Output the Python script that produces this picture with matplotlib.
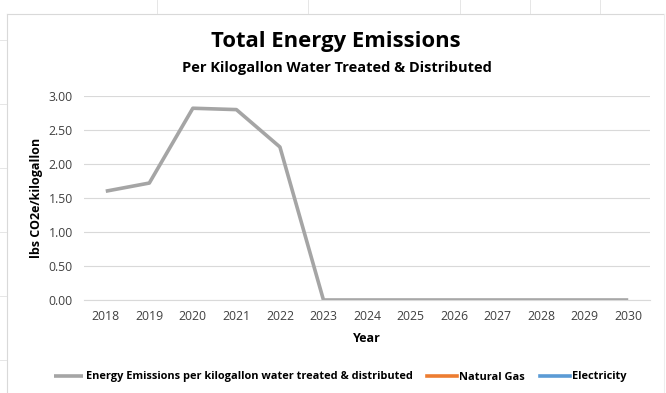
import numpy as np
import matplotlib.pyplot as plt
from matplotlib.lines import Line2D

years = [2018, 2019, 2020, 2021, 2022, 2023, 2024, 2025, 2026, 2027, 2028, 2029, 2030]
energy_emissions = [1.60, 1.72, 2.82, 2.80, 2.25, 0, 0, 0, 0, 0, 0, 0, 0]
# these two series have no visible values in the chart
natural_gas = [np.nan] * len(years)
electricity = [np.nan] * len(years)

plt.rcParams['font.family'] = ['Open Sans', 'DejaVu Sans']

W, H = 666, 393
fig = plt.figure(figsize=(W / 100, H / 100), dpi=100)

# spreadsheet background / chart border
grid_col = '#E6E6E6'
for x in [157, 308, 460, 530, 600]:
    fig.add_artist(Line2D([x / W, x / W], [1, 1 - 13 / H], color=grid_col, lw=0.7))
for y in range(40, 393, 64):
    fig.add_artist(Line2D([0, 6 / W], [1 - y / H, 1 - y / H], color=grid_col, lw=0.7))
fig.add_artist(Line2D([7 / W, 664 / W], [1 - 14 / H, 1 - 14 / H], color='#D9D9D9', lw=0.8))
fig.add_artist(Line2D([7 / W, 7 / W], [1 - 14 / H, 0], color='#D9D9D9', lw=0.8))
fig.add_artist(Line2D([664 / W, 664 / W], [1 - 14 / H, 0], color='#EDEDED', lw=0.8))

left, right, top, bottom = 84, 650, 96, 300
ax = fig.add_axes([left / W, 1 - bottom / H, (right - left) / W, (bottom - top) / H])

x = np.arange(len(years))
ax.plot(x, energy_emissions, color='#A5A5A5', lw=2.6, solid_capstyle='butt',
        label='Energy Emissions per kilogallon water treated & distributed')
ax.plot(x, natural_gas, color='#ED7D31', lw=2.6, label='Natural Gas')
ax.plot(x, electricity, color='#5B9BD5', lw=2.6, label='Electricity')

ax.set_xlim(-0.5, len(years) - 0.5)
ax.set_ylim(0, 3.0)
ax.set_yticks(np.arange(0, 3.01, 0.5))
ax.set_yticklabels([f'{v:.2f}' for v in np.arange(0, 3.01, 0.5)])
ax.set_xticks(x)
ax.set_xticklabels([str(y) for y in years])
ax.grid(axis='y', color='#D9D9D9', lw=0.8)
ax.set_axisbelow(True)
for s in ['top', 'right', 'left']:
    ax.spines[s].set_visible(False)
ax.spines['bottom'].set_color('#D9D9D9')
ax.spines['bottom'].set_linewidth(0.8)
ax.tick_params(length=0, labelsize=8.8, colors='#404040')
ax.tick_params(axis='y', pad=8)
ax.tick_params(axis='x', pad=7)

ax.set_ylabel('lbs CO2e/kilogallon', fontsize=9.0, fontweight='bold')
ax.set_xlabel('Year', fontsize=9.0, fontweight='bold')
ax.yaxis.set_label_coords((37 - left) / (right - left), 0.5)
ax.xaxis.set_label_coords(0.5, (bottom - 338) / (bottom - top))
ax.yaxis.label.set_va('center')
ax.xaxis.label.set_va('center')

fig.text(336 / W, 1 - 42 / H, 'Total Energy Emissions', ha='center', va='center',
         fontsize=15.8, fontweight='bold')
fig.text(337 / W, 1 - 68 / H, 'Per Kilogallon Water Treated & Distributed', ha='center',
         va='center', fontsize=10.5, fontweight='bold')

leg = fig.legend(loc='center', bbox_to_anchor=(340 / W, 1 - 377 / H), ncol=3, frameon=False,
                 prop={'size': 7.95, 'weight': 'bold'}, handlelength=2.7,
                 handletextpad=0.2, columnspacing=1.35)

fig.savefig('out.png', dpi=100)
